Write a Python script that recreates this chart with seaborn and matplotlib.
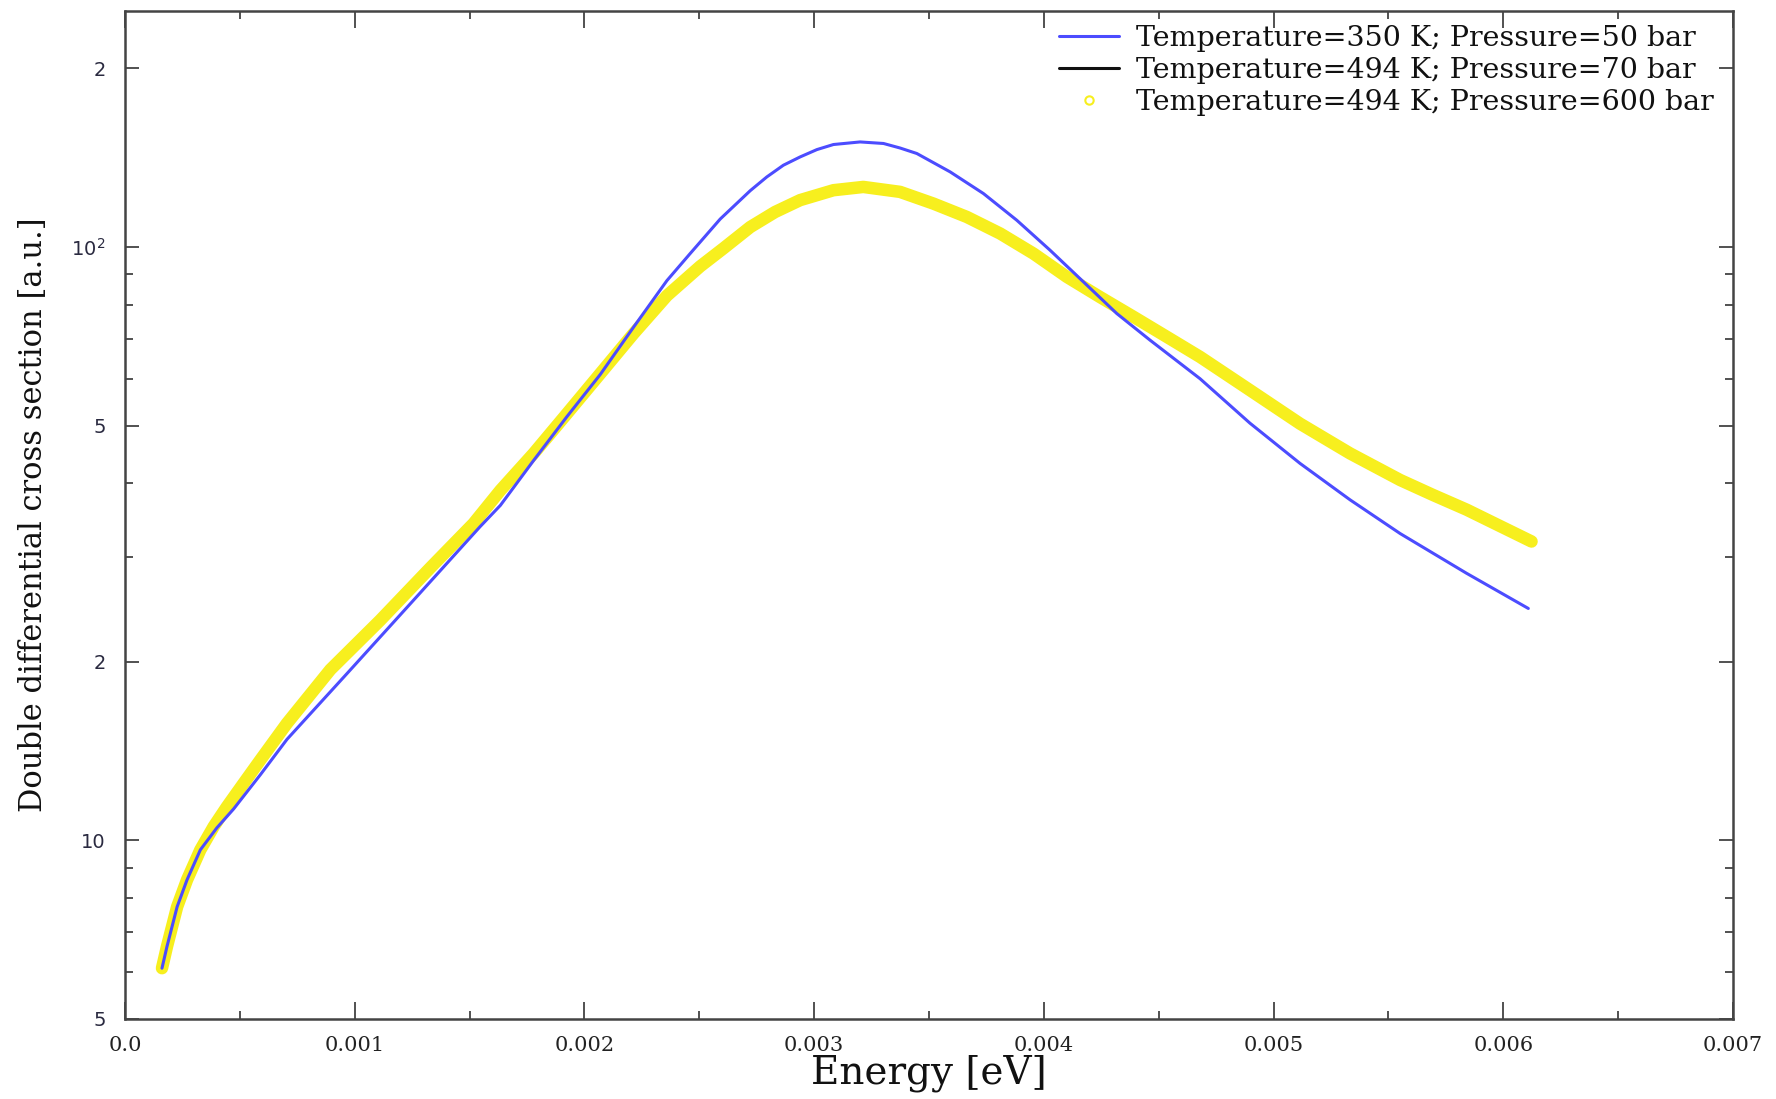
import numpy as np
import pandas as pd
import matplotlib
matplotlib.use("Agg")
import matplotlib.pyplot as plt
from matplotlib.lines import Line2D
from matplotlib.ticker import FixedLocator, FixedFormatter, NullFormatter
import seaborn as sns

# Style
sns.set_theme(style="ticks")
plt.rcParams['font.family'] = ['DejaVu Serif']
plt.rcParams['mathtext.fontset'] = 'dejavusans'

# Data (energy in eV, cross section in a.u.)
energy_350K_50bar = [0.000161, 0.000183, 0.000205, 0.000227, 0.000270, 0.000328, 0.000400,
                     0.000473, 0.000589, 0.000705, 0.000966, 0.001256, 0.001546, 0.001634,
                     0.001779, 0.001924, 0.002069, 0.002214, 0.002359, 0.002460, 0.002591,
                     0.002722, 0.002794, 0.002866, 0.002939, 0.003012, 0.003084, 0.003200,
                     0.003302, 0.003374, 0.003447, 0.003592, 0.003737, 0.003882, 0.004027,
                     0.004172, 0.004317, 0.004462, 0.004680, 0.004897, 0.005115, 0.005333,
                     0.005551, 0.005840, 0.006109]
xs_350K_50bar = [6.09, 6.63, 7.16, 7.73, 8.58, 9.64, 10.5,
                 11.3, 12.9, 14.8, 19.1, 25.4, 33.8, 36.7,
                 43.7, 51.8, 61.0, 73.3, 87.8, 97.5, 111.5,
                 124.5, 131.3, 137.4, 141.9, 146.0, 148.9, 150.4,
                 149.5, 146.9, 143.8, 133.9, 123.1, 111.0, 98.8,
                 87.4, 77.3, 69.7, 60.0, 50.5, 43.2, 37.5,
                 32.9, 28.2, 24.6]

energy_494K_600bar = [0.000161, 0.000183, 0.000205, 0.000227, 0.000270, 0.000328, 0.000386,
                      0.000444, 0.000517, 0.000589, 0.000705, 0.000894, 0.001111, 0.001329,
                      0.001517, 0.001634, 0.001779, 0.001924, 0.002069, 0.002214, 0.002359,
                      0.002504, 0.002605, 0.002722, 0.002830, 0.002939, 0.003084, 0.003214,
                      0.003374, 0.003519, 0.003665, 0.003810, 0.003955, 0.004100, 0.004244,
                      0.004390, 0.004535, 0.004680, 0.004897, 0.005115, 0.005333, 0.005551,
                      0.005695, 0.005840, 0.006123]
xs_494K_600bar = [6.09, 6.63, 7.16, 7.73, 8.58, 9.64, 10.55,
                  11.4, 12.49, 13.66, 15.75, 19.4, 23.5, 28.8,
                  34.2, 38.9, 44.9, 52.4, 61.2, 71.5, 82.8,
                  92.8, 99.5, 108.1, 114.6, 120.0, 124.7, 126.3,
                  123.9, 118.4, 112.4, 105.4, 97.5, 89.1, 82.4,
                  76.3, 70.6, 65.3, 57.4, 50.4, 44.9, 40.5,
                  38.2, 36.1, 31.9]

# 70 bar curve sits right under the 600 bar one
energy_494K_70bar = energy_494K_600bar
xs_494K_70bar = xs_494K_600bar

labels = ['Temperature=350 K; Pressure=50 bar',
          'Temperature=494 K; Pressure=70 bar',
          'Temperature=494 K; Pressure=600 bar']
colors = ['#4c4cff', '#111111', '#f7ef1e']

x_ticks = [0.0, 0.001, 0.002, 0.003, 0.004, 0.005, 0.006, 0.007]
x_ticklabels = ['0.0', '0.001', '0.002', '0.003', '0.004', '0.005', '0.006', '0.007']
y_ticks = [5, 10, 20, 50, 100, 200]
y_ticklabels = ['5', '10', '2', '5', r'$10^2$', '2']
y_minor = [6, 7, 8, 9, 30, 40, 60, 70, 80, 90]

fig = plt.figure(figsize=(17.76, 10.99), dpi=100)
ax = fig.add_axes([125 / 1776, 1 - 1019 / 1099, (1733 - 125) / 1776, (1019 - 11) / 1099])

df_black = pd.DataFrame({'e': energy_494K_70bar, 'v': xs_494K_70bar})
df_yellow = pd.DataFrame({'e': energy_494K_600bar, 'v': xs_494K_600bar})
df_blue = pd.DataFrame({'e': energy_350K_50bar, 'v': xs_350K_50bar})

sns.lineplot(data=df_black, x='e', y='v', ax=ax, color=colors[1], lw=1.5, zorder=2)
sns.lineplot(data=df_yellow, x='e', y='v', ax=ax, color=colors[2], lw=9, zorder=3,
             solid_capstyle='round', solid_joinstyle='round')
sns.lineplot(data=df_blue, x='e', y='v', ax=ax, color=colors[0], lw=2.2, zorder=4,
             solid_joinstyle='round')

ax.set_yscale('log')
ax.set_xlim(0, 0.007)
ax.set_ylim(5, 250)

ax.xaxis.set_major_locator(FixedLocator(x_ticks))
ax.xaxis.set_major_formatter(FixedFormatter(x_ticklabels))
ax.xaxis.set_minor_locator(FixedLocator(np.array(x_ticks[:-1]) + 0.0005))
ax.yaxis.set_major_locator(FixedLocator(y_ticks))
ax.yaxis.set_major_formatter(FixedFormatter(y_ticklabels))
ax.yaxis.set_minor_locator(FixedLocator(y_minor))
ax.yaxis.set_minor_formatter(NullFormatter())

ax.tick_params(axis='both', which='both', direction='in', top=True, right=True,
               color='#333333', width=1.2)
ax.tick_params(axis='x', which='major', length=12, labelsize=15, pad=12, labelcolor='#222222')
ax.tick_params(axis='x', which='minor', length=6)
ax.tick_params(axis='y', which='major', length=10, labelsize=14, pad=14, labelcolor='#2a2a40')
ax.tick_params(axis='y', which='minor', length=6)
for lbl in ax.get_yticklabels():
    lbl.set_fontfamily('DejaVu Sans')

for sp in ax.spines.values():
    sp.set_color('#444444')
    sp.set_linewidth(1.8)

ax.set_xlabel('Energy [eV]', fontsize=28, labelpad=0, color='#111111')
ax.set_ylabel('Double differential cross section [a.u.]', fontsize=22, labelpad=16, color='#111111')
ax.grid(False)

handles = [Line2D([], [], color=colors[0], lw=2.2),
           Line2D([], [], color=colors[1], lw=2.2),
           Line2D([], [], color=colors[2], marker='o', ls='none', markersize=6,
                  markerfacecolor='none', markeredgewidth=1.5)]
ax.legend(handles, labels, loc='upper left', frameon=False, fontsize=20.5,
          bbox_to_anchor=(1059 / 1776, 1 - 25 / 1099), bbox_transform=fig.transFigure,
          borderpad=0, borderaxespad=0, handlelength=2.1, handletextpad=0.6,
          labelspacing=0.18, labelcolor='#111111')

plt.savefig('out.png', dpi=100)
plt.close()
